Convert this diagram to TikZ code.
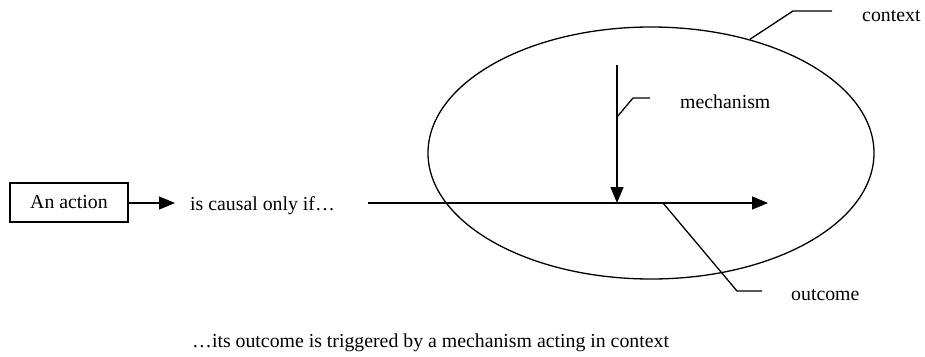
\documentclass[tikz,border=0pt]{standalone}
\usepackage{fontspec}
\setmainfont{Liberation Serif}
\usetikzlibrary{shapes,arrows.meta,positioning,calc}

\begin{document}
\begin{tikzpicture}[x=1pt, y=-1pt, font=\fontsize{19.8}{24}\selectfont,
    actbox/.style={rectangle, draw=black, line width=1.3pt, minimum width=118pt, minimum height=39pt, inner sep=0pt},
    ctxoval/.style={ellipse, draw=black, line width=1.3pt, minimum width=446pt, minimum height=252pt, inner sep=0pt},
    lbl/.style={inner sep=0pt, anchor=base west},
    arrow/.style={draw, line width=1.3pt, -{Triangle[length=16pt,width=13pt]}},
    callout/.style={draw, line width=1.3pt}
]
    \useasboundingbox (0,0) rectangle (925,356);
    \node[ctxoval] (ctx) at (651,153) {};
    \node[actbox] (action) at (69,202.5) {An action};
    \node[lbl] (causal) at (190,210) {is causal only if…};
    \node[lbl] (ctxtext) at (862,21) {context};
    \node[lbl] (mechtext) at (680,108) {mechanism};
    \node[lbl] (outtext) at (791,300) {outcome};
    \node[lbl] (summary) at (192,347) {…its outcome is triggered by a mechanism acting in context};
    % flow line and mechanism
    \coordinate (flowstart) at (368,203);
    \coordinate (flowend) at (768,203);
    \coordinate (mechtop) at (617,65);
    \coordinate (mechhit) at (617,203);
    \path [arrow] (action.east |- flowstart) -- (175,203);
    \path [arrow] (flowstart) -- (flowend);
    \path [arrow] (mechtop) -- (mechhit);
    % callouts
    \coordinate (ctxknee) at (793,11);
    \coordinate (ctxend) at (832,11);
    \coordinate (mechfoot) at (617,117);
    \coordinate (mechknee) at (633,98);
    \coordinate (mechend) at (650,98);
    \coordinate (outfoot) at (663,203);
    \coordinate (outknee) at (737,291);
    \coordinate (outend) at (762,291);
    \draw [callout] (ctx.49) -- (ctxknee) -- (ctxend);
    \draw [callout] (mechfoot) -- (mechknee) -- (mechend);
    \draw [callout] (outfoot) -- (outknee) -- (outend);
\end{tikzpicture}
\end{document}
